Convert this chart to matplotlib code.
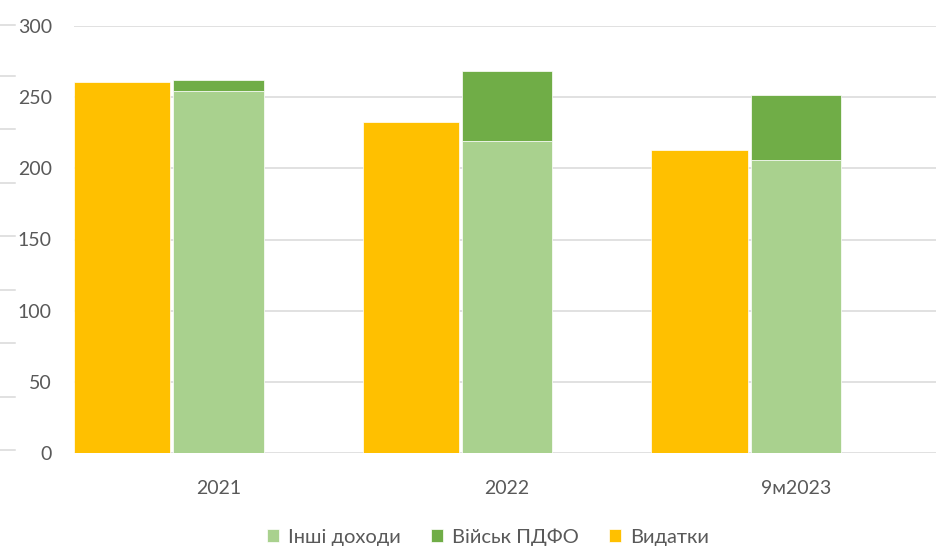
import matplotlib
matplotlib.use("Agg")
import matplotlib.pyplot as plt
from matplotlib.lines import Line2D
import numpy as np

plt.rcParams['font.family'] = ['Lato', 'DejaVu Sans']

# data
categories = ['2021', '2022', '9м2023']
spending = [260.5, 232.4, 212.8]          # Видатки
other_income = [254.4, 218.9, 205.6]      # Інші доходи
military_pdfo = [7.5, 49.1, 45.6]         # Військ ПДФО
y_ticks = [0, 50, 100, 150, 200, 250, 300]

c_yellow = '#FFC000'
c_light = '#A9D18E'
c_dark = '#70AD47'
c_grid = '#D9D9D9'
c_text = '#595959'

fig = plt.figure(figsize=(9.36, 5.46), dpi=100)
ax = fig.add_axes([74 / 936, 1 - 453.3 / 546, 1 - 74 / 936, (453.3 - 25.7) / 546])

x = np.arange(len(categories))
w_y = 0.334
w_g = 0.313
ax.bar(x - 0.3335, spending, width=w_y, color=c_yellow, edgecolor='white',
       linewidth=0.5, label='Видатки', zorder=3)
ax.bar(x, other_income, width=w_g, color=c_light, edgecolor='white',
       linewidth=0.5, label='Інші доходи', zorder=3)
ax.bar(x, military_pdfo, width=w_g, bottom=other_income, color=c_dark,
       edgecolor='white', linewidth=0.5, label='Військ ПДФО', zorder=3)

ax.set_xlim(-0.5, 2.4848)
ax.set_ylim(0, 300)
ax.set_yticks(y_ticks)
ax.set_xticks(x)
ax.set_xticklabels(categories)
ax.yaxis.grid(True, color=c_grid, linewidth=1.1, zorder=0)
ax.set_axisbelow(True)
for s in ax.spines.values():
    s.set_visible(False)
ax.tick_params(axis='both', length=0, labelsize=14, colors=c_text)
ax.tick_params(axis='y', pad=16)
ax.tick_params(axis='x', pad=19)

# left edge dashes
for yp in [25, 76, 129, 183, 236, 290, 343, 397, 450]:
    fig.add_artist(Line2D([0, 15 / 936], [1 - yp / 546] * 2, color=c_grid,
                          linewidth=1.1, transform=fig.transFigure))

handles, labels = ax.get_legend_handles_labels()
order = [1, 2, 0]
leg = fig.legend([handles[i] for i in order], [labels[i] for i in order],
                 loc='center', bbox_to_anchor=(488 / 936, 1 - 537 / 546),
                 ncol=3, frameon=False, fontsize=14.5, handlelength=0.6,
                 handleheight=0.6, handletextpad=0.45, columnspacing=1.5)
for t in leg.get_texts():
    t.set_color(c_text)

fig.savefig('out.png', dpi=100)
